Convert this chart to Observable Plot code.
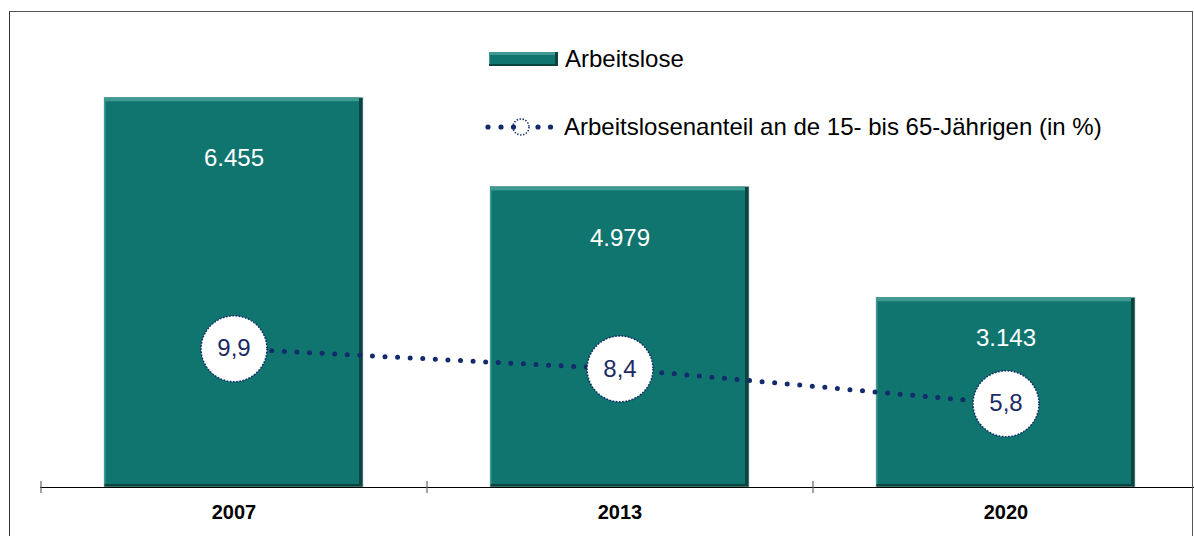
<!DOCTYPE html>
<html>
<head>
<meta charset="utf-8">
<script src="https://cdn.jsdelivr.net/npm/d3@7"></script>
<script src="https://cdn.jsdelivr.net/npm/@observablehq/plot@0.6"></script>
<style>
  html, body { margin: 0; padding: 0; background: #fff; overflow: hidden; }
  #wrap { position: relative; width: 1194px; height: 536px; font-family: "Liberation Sans", Arial, sans-serif; }
  #frame { position: absolute; left: 9px; top: 11px; width: 1184px; height: 540px; border-left: 1px solid #333; border-top: 1px solid #555; border-right: 1px solid #555; box-sizing: border-box; pointer-events: none; }
  #chart { position: absolute; left: 0; top: 0; }
  .leg { position: absolute; display: flex; align-items: center; font-size: 24px; color: #000; white-space: nowrap; }
  .leg svg { margin-right: 7px; }
</style>
</head>
<body>
<div id="wrap">
  <div id="chart"></div>
  <div id="frame"></div>
  <div class="leg" id="leg1" style="left:489px; top:45px;"></div>
  <div class="leg" id="leg2" style="left:484px; top:112px;"></div>
</div>
<script>
// ---- data ----
const years = ["2007", "2013", "2020"];
const unemployed = [6455, 4979, 3143];              // Arbeitslose (Tsd.)
const unemployedLabels = ["6.455", "4.979", "3.143"];
const share = [9.9, 8.4, 5.8];                       // Anteil in %
const shareLabels = ["9,9", "8,4", "5,8"];
const seriesNames = ["Arbeitslose", "Arbeitslosenanteil an de 15- bis 65-Jährigen (in %)"];

const rows = years.map((y, i) => ({year: y, value: unemployed[i], label: unemployedLabels[i], pct: share[i], pctLabel: shareLabels[i]}));

// secondary (percent) axis mapped onto the primary y units
const pctToY = d3.scaleLinear().domain([0, 10]).range([100, 100 + 10 * 222]);

const teal = "#10756f";
const tealDark = "#0a4542";
const tealLight = "#3f9a94";
const navy = "#132a6b";

const xRange = [40, 1198];
const halfStep = (xRange[1] - xRange[0]) / years.length / 2;

const chart = Plot.plot({
  width: 1194,
  height: 536,
  marginLeft: 40,
  marginRight: 0,
  marginTop: 4,
  marginBottom: 49,
  style: {fontFamily: "'Liberation Sans', Arial, sans-serif", background: "transparent", overflow: "visible"},
  x: {domain: years, range: xRange, paddingInner: 0.33, paddingOuter: 0.165, axis: null},
  y: {domain: [0, 8000], axis: null},
  marks: [
    // bevelled bars
    Plot.barY(rows, {x: "year", y: "value", fill: tealDark, stroke: "#b9c9c7", strokeWidth: 0.6}),
    Plot.barY(rows, {x: "year", y: "value", fill: tealLight, insetRight: 4, insetBottom: 3}),
    Plot.barY(rows, {x: "year", y: "value", fill: teal, insetTop: 4, insetLeft: 1.5, insetRight: 4, insetBottom: 3}),
    // bar value labels
    Plot.text(rows, {x: "year", y: d => d.value * 0.9 - 350, text: "label", fill: "white", fontSize: 24}),
    // axis line and category separators
    Plot.ruleY([0], {stroke: "#000", strokeWidth: 1.2}),
    Plot.ruleX(years, {x: d => d, dx: -halfStep, y1: 0, y2: 0, insetTop: 6, insetBottom: 6, stroke: "#666", strokeWidth: 1.2}),
    Plot.axisX({tickSize: 0, tickPadding: 17, fontSize: 20, fontWeight: "bold", fill: "#000", label: null}),
    // percent line
    Plot.line(rows, {x: "year", y: d => pctToY(d.pct), stroke: navy, strokeWidth: 5, strokeDasharray: "0 12.6", strokeLinecap: "round"}),
    Plot.dot(rows, {x: "year", y: d => pctToY(d.pct), r: 33, fill: "white", stroke: navy, strokeWidth: 1.6, strokeDasharray: "1.6 1.6"}),
    Plot.text(rows, {x: "year", y: d => pctToY(d.pct), text: "pctLabel", fill: "#1c2b66", fontSize: 24})
  ]
});
document.getElementById("chart").appendChild(chart);

// legend
document.getElementById("leg1").innerHTML =
  `<svg width="69" height="14" viewBox="0 0 69 14">
     <rect x="0" y="0" width="69" height="14" fill="${tealDark}"/>
     <rect x="0" y="0" width="66" height="12" fill="${tealLight}"/>
     <rect x="1" y="3" width="65" height="9" fill="${teal}"/>
   </svg><span>${seriesNames[0]}</span>`;
const legendDots = [4, 17, 29.5, 54, 66.5].map(cx => `<circle cx="${cx}" cy="15" r="2.6" fill="${navy}"/>`).join("");
document.getElementById("leg2").innerHTML =
  `<svg width="73" height="30" viewBox="0 0 73 30">
     <circle cx="37" cy="15" r="8" fill="white" stroke="${navy}" stroke-width="1.6" stroke-dasharray="1.4 1.6"/>
     ${legendDots}
   </svg><span>${seriesNames[1]}</span>`;
</script>
</body>
</html>
